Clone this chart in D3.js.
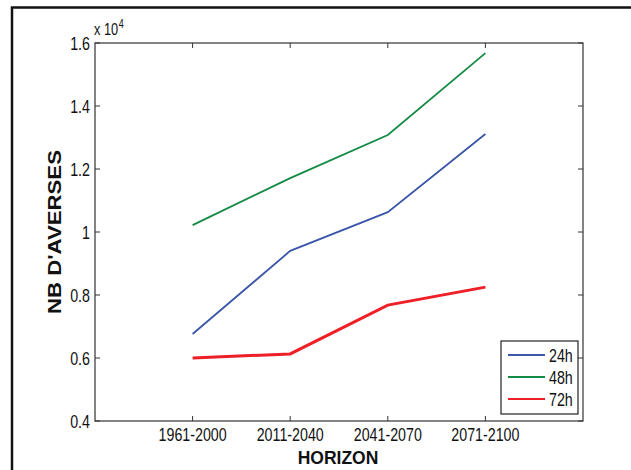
<!DOCTYPE html>
<html>
<head>
<meta charset="utf-8">
<script src="https://cdn.jsdelivr.net/npm/d3@7"></script>
<style>
  body { margin: 0; background: #fff; }
  svg text { font-family: "Liberation Sans", Arial, sans-serif; fill: #111; }
</style>
</head>
<body>
<svg id="chart" width="631" height="470"></svg>
<script>
const horizons = ['1961-2000', '2011-2040', '2041-2070', '2071-2100'];
const yTicks = [0.4, 0.6, 0.8, 1, 1.2, 1.4, 1.6];
// values in units of 10^4
const series24h = [0.676, 0.94, 1.063, 1.311];
const series48h = [1.022, 1.171, 1.308, 1.568];
const series72h = [0.600, 0.613, 0.768, 0.825];
const seriesNames = ['24h', '48h', '72h'];
const seriesColors = ['#3b56a8', '#148a44', '#ee1f26'];
const seriesWidths = [1.8, 1.8, 3];

const svg = d3.select('#chart');
const m = { left: 95, right: 583, top: 43, bottom: 421 };
const narrow = 0.75; // horizontal squeeze to mimic a condensed face

// condensed text: place at (px,py) and squeeze horizontally
function narrowText(parent, px, py, anchor, size, txt) {
  return parent.append('text')
    .attr('transform', 'translate(' + px + ',' + py + ') scale(' + narrow + ',1)')
    .attr('text-anchor', anchor)
    .style('font-size', size + 'px')
    .text(txt);
}

// outer frame (only left and top edges are visible)
svg.append('path')
  .attr('d', 'M12,470V7.5H631')
  .attr('fill', 'none')
  .attr('stroke', '#111')
  .attr('stroke-width', 2.5);

let x = d3.scaleLinear().domain([0, 5]).range([m.left, m.right]);
let y = d3.scaleLinear().domain([0.4, 1.6]).range([m.bottom, m.top]);

// axes box
svg.append('rect')
  .attr('x', m.left).attr('y', m.top)
  .attr('width', m.right - m.left).attr('height', m.bottom - m.top)
  .attr('fill', 'none').attr('stroke', '#333').attr('stroke-width', 1.2);

const xPos = horizons.map((d, i) => i + 1);
const tickLen = 5;

// x ticks, bottom and top
let gx = svg.append('g');
gx.selectAll('line.b').data(xPos).enter().append('line')
  .attr('x1', (d) => x(d)).attr('x2', (d) => x(d))
  .attr('y1', m.bottom).attr('y2', m.bottom - tickLen)
  .attr('stroke', '#333');
gx.selectAll('line.t').data(xPos).enter().append('line')
  .attr('x1', (d) => x(d)).attr('x2', (d) => x(d))
  .attr('y1', m.top).attr('y2', m.top + tickLen)
  .attr('stroke', '#333');
horizons.forEach((h, i) => {
  narrowText(gx, x(i + 1), m.bottom + 20, 'middle', 19, h);
});

// y ticks, left and right
let gy = svg.append('g');
gy.selectAll('line.l').data(yTicks).enter().append('line')
  .attr('x1', m.left).attr('x2', m.left + tickLen)
  .attr('y1', (d) => y(d)).attr('y2', (d) => y(d))
  .attr('stroke', '#333');
gy.selectAll('line.r').data(yTicks).enter().append('line')
  .attr('x1', m.right).attr('x2', m.right - tickLen)
  .attr('y1', (d) => y(d)).attr('y2', (d) => y(d))
  .attr('stroke', '#333');
yTicks.forEach((t) => {
  narrowText(gy, m.left - 5, y(t) + 7, 'end', 19, d3.format('.1~f')(t));
});

// exponent label
let ex = narrowText(svg, m.left - 1, m.top - 8, 'start', 17, '');
ex.append('tspan').text('x 10');
ex.append('tspan').attr('dx', 1).attr('dy', -7).style('font-size', '12px').text('4');

// axis titles (the y title is a wide bold face)
svg.append('text')
  .attr('transform', 'translate(61,232) rotate(-90) scale(1.2,1)')
  .attr('text-anchor', 'middle')
  .style('font-weight', 'bold')
  .style('font-size', '18.5px')
  .text("NB D'AVERSES");
svg.append('text')
  .attr('x', (m.left + m.right) / 2 - 1).attr('y', m.bottom + 43)
  .attr('text-anchor', 'middle')
  .style('font-weight', 'bold')
  .style('font-size', '17.5px')
  .text('HORIZON');

// lines
const allSeries = [series24h, series48h, series72h];
let line = d3.line().x((d, i) => x(i + 1)).y((d) => y(d));
svg.selectAll('path.series').data(allSeries).enter().append('path')
  .attr('class', 'series')
  .attr('d', line)
  .attr('fill', 'none')
  .attr('stroke', (d, i) => seriesColors[i])
  .attr('stroke-width', (d, i) => seriesWidths[i]);

// legend
let lg = svg.append('g').attr('transform', 'translate(501,341)');
lg.append('rect')
  .attr('width', 77).attr('height', 73)
  .attr('fill', '#fff').attr('stroke', '#222').attr('stroke-width', 1.2);
seriesNames.forEach((name, i) => {
  lg.append('line')
    .attr('x1', 7).attr('x2', 44)
    .attr('y1', 14 + i * 22).attr('y2', 14 + i * 22)
    .attr('stroke', seriesColors[i]).attr('stroke-width', 2);
  narrowText(lg, 48, 21 + i * 22, 'start', 19, name);
});
</script>
</body>
</html>
